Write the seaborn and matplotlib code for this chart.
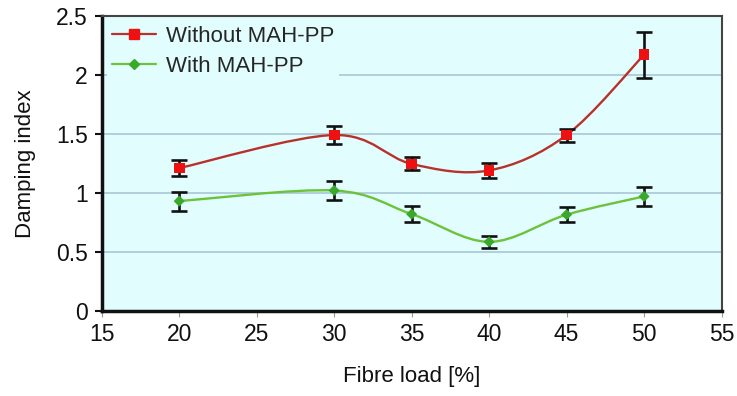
import numpy as np
import pandas as pd
import matplotlib
matplotlib.use("Agg")
import matplotlib.pyplot as plt
import seaborn as sns
from matplotlib.path import Path
from matplotlib.patches import PathPatch
from matplotlib.lines import Line2D

fibre_load = [20, 30, 35, 40, 45, 50]
without_mah = [1.21, 1.49, 1.245, 1.19, 1.49, 2.17]
without_err = [0.07, 0.075, 0.055, 0.06, 0.055, 0.195]
with_mah = [0.93, 1.02, 0.82, 0.585, 0.815, 0.97]
with_err = [0.08, 0.08, 0.065, 0.05, 0.065, 0.08]
series_names = ["Without MAH-PP", "With MAH-PP"]

sns.set_theme(style="white")
plt.rcParams['font.family'] = ['Liberation Sans', 'DejaVu Sans']

df = pd.DataFrame({
    "x": fibre_load * 2,
    "y": without_mah + with_mah,
    "err": without_err + with_err,
    "series": [series_names[0]] * 6 + [series_names[1]] * 6,
})

fig = plt.figure(figsize=(7.37, 3.96), dpi=100)
ax = fig.add_axes([0.138, 0.215, 0.841, 0.745])
ax.set_facecolor("#e2fdfd")

def smooth_path(xs, ys, tension=1/6):
    xs = np.asarray(xs, float); ys = np.asarray(ys, float)
    pts = np.column_stack([xs, ys])
    verts = [pts[0]]; codes = [Path.MOVETO]
    n = len(pts)
    for i in range(n - 1):
        p0 = pts[i - 1] if i > 0 else pts[i]
        p1 = pts[i]; p2 = pts[i + 1]
        p3 = pts[i + 2] if i + 2 < n else pts[i + 1]
        c1 = p1 + (p2 - p0) * tension
        c2 = p2 - (p3 - p1) * tension
        verts += [c1, c2, p2]
        codes += [Path.CURVE4] * 3
    return Path(verts, codes)

line_cols = {series_names[0]: "#b8322c", series_names[1]: "#6cc33a"}
mark_cols = {series_names[0]: "#ee1111", series_names[1]: "#3aa82a"}
marks = {series_names[0]: "s", series_names[1]: "D"}
msz = {series_names[0]: 60, series_names[1]: 32}

for name in series_names:
    sub = df[df.series == name]
    ax.add_patch(PathPatch(smooth_path(sub.x, sub.y), fill=False,
                           edgecolor=line_cols[name], lw=1.7, zorder=3))
    ax.errorbar(sub.x, sub.y, yerr=sub.err, fmt="none", ecolor="#111111",
                elinewidth=1.9, capsize=5.5, capthick=1.9, zorder=4)

sns.scatterplot(data=df, x="x", y="y", hue="series", style="series",
                palette=mark_cols, markers=marks, size="series", sizes=msz,
                edgecolor="none", ax=ax, legend=False, zorder=5)

ax.set_xlim(15, 55)
ax.set_ylim(0, 2.5)
ax.set_xticks(range(15, 56, 5))
ax.set_yticks([0, 0.5, 1, 1.5, 2, 2.5])
ax.set_yticklabels(["0", "0.5", "1", "1.5", "2", "2.5"])
ax.set_xticklabels([str(v) for v in range(15, 56, 5)])
for yv in [0.5, 1, 1.5, 2]:
    ax.axhline(yv, color="#a9c6d6", lw=1.2, zorder=1)

ax.tick_params(axis="both", labelsize=16.5, colors="#111111", length=5, width=1.5,
               direction="out", left=True, bottom=True, pad=5)
ax.tick_params(axis="x", length=4, width=0.8, color="#999999", pad=5)
for s in ["left", "bottom"]:
    ax.spines[s].set_color("#111111")
    ax.spines[s].set_linewidth(2.5)
for s in ["top", "right"]:
    ax.spines[s].set_color("#444444")
    ax.spines[s].set_linewidth(1.5)

ax.set_xlabel("Fibre load [%]", fontsize=16, labelpad=14, color="#111111")
ax.set_ylabel("Damping index", fontsize=16, labelpad=14, color="#111111")

handles = [Line2D([], [], color=line_cols[n], marker=marks[n], markersize=7 if n == series_names[0] else 5.5,
                  markerfacecolor=mark_cols[n], markeredgecolor=mark_cols[n], lw=1.6)
           for n in series_names]
leg = ax.legend(handles, series_names, loc="upper left", fontsize=16,
                frameon=True, framealpha=1, facecolor="#e2fdfd", edgecolor="none",
                borderpad=0.2, handlelength=2.0, handletextpad=0.45, labelspacing=0.4,
                bbox_to_anchor=(0.0, 1.0), borderaxespad=0.25)
leg.set_zorder(10)

fig.savefig("out.png", dpi=100)
